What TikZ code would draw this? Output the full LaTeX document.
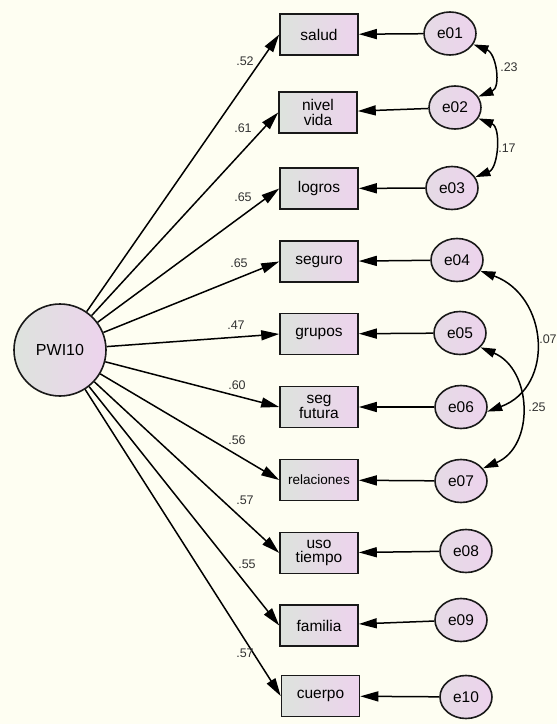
\documentclass[tikz,border=0pt]{standalone}
\usepackage{fontspec}
\setmainfont{Liberation Sans}
\usetikzlibrary{shapes.geometric,arrows.meta}
\definecolor{bg}{RGB}{254,254,242}
\definecolor{fillL}{RGB}{221,227,221}
\definecolor{fillR}{RGB}{237,211,237}
\begin{document}
\begin{tikzpicture}[x=1pt,y=-1pt,
 obs/.style={draw=black!90,line width=1.6pt,rectangle,minimum width=78pt,minimum height=41pt,inner sep=0pt,left color=fillL,right color=fillR,font=\fontsize{15.5}{14.5}\selectfont,align=center},
 err/.style={draw=black!90,line width=1.6pt,ellipse,minimum width=52pt,minimum height=43pt,inner sep=0pt,left color=fillL!50!fillR,right color=fillR,font=\fontsize{15.5}{15.5}\selectfont},
 lat/.style={draw=black!90,line width=1.6pt,circle,minimum size=92pt,inner sep=0pt,left color=fillL,right color=fillR,font=\fontsize{16}{16}\selectfont},
 ld/.style={line width=1.5pt,-{Triangle[length=18pt,width=10pt]}},
 cv/.style={line width=1.5pt,{Triangle[length=15pt,width=9pt]}-{Triangle[length=15pt,width=9pt]}},
 lab/.style={font=\fontsize{12.5}{13}\selectfont,inner sep=0pt,text=black!80}
]
\fill[bg] (0,0) rectangle (557,724);
\useasboundingbox (0,0) rectangle (557,724);

\node[lat] (pwi) at (60,350) {PWI10};

\node[obs] (v1) at (319,34.5) {salud};
\node[obs] (v2) at (318,112.5) {nivel\\vida};
\node[obs] (v3) at (319,188.5) {logros};
\node[obs] (v4) at (319,261.5) {seguro};
\node[obs] (v5) at (319,334) {grupos};
\node[obs] (v6) at (319,407) {seg\\futura};
\node[obs,font=\fontsize{13.5}{14}\selectfont] (v7) at (319,480) {relaciones};
\node[obs] (v8) at (319,553) {uso\\tiempo};
\node[obs] (v9) at (319,625.5) {familia};
\node[obs] (v10) at (320.5,696) {cuerpo};

\node[err] (e1) at (450,33.5) {e01};
\node[err] (e2) at (455,107.5) {e02};
\node[err] (e3) at (452,188) {e03};
\node[err] (e4) at (457,260) {e04};
\node[err] (e5) at (460,333) {e05};
\node[err] (e6) at (461,407) {e06};
\node[err] (e7) at (461,481) {e07};
\node[err] (e8) at (466,551) {e08};
\node[err] (e9) at (461,620) {e09};
\node[err] (e10) at (466,697) {e10};

\foreach \i in {1,...,10} {
  \draw[ld] (pwi) -- (v\i.west);
  \draw[ld] (e\i) -- (v\i);
}

\node[lab] (l1) at (245,61) {.52};
\node[lab] (l2) at (243,128) {.61};
\node[lab] (l3) at (243,197) {.65};
\node[lab] (l4) at (239,263) {.65};
\node[lab] (l5) at (236,325) {.47};
\node[lab] (l6) at (237,385) {.60};
\node[lab] (l7) at (237,440) {.56};
\node[lab] (l8) at (245,500) {.57};
\node[lab] (l9) at (247,564) {.55};
\node[lab] (l10) at (245,653) {.57};

\draw[cv] (e1.-25) .. controls +(23,9) and +(23,-9) .. (e2.25);
\draw[cv] (e2.-25) .. controls +(23,9) and +(23,-9) .. (e3.25);
\draw[cv] (e4.-25) .. controls +(68,25) and +(68,-25) .. (e6.-10);
\draw[cv] (e5.-35) .. controls +(52,22) and +(52,-22) .. (e7.30);

\node[lab] (c1) at (509,67) {.23};
\node[lab] (c2) at (507,148) {.17};
\node[lab] (c3) at (548,339) {.07};
\node[lab] (c4) at (537,407) {.25};
\end{tikzpicture}
\end{document}
